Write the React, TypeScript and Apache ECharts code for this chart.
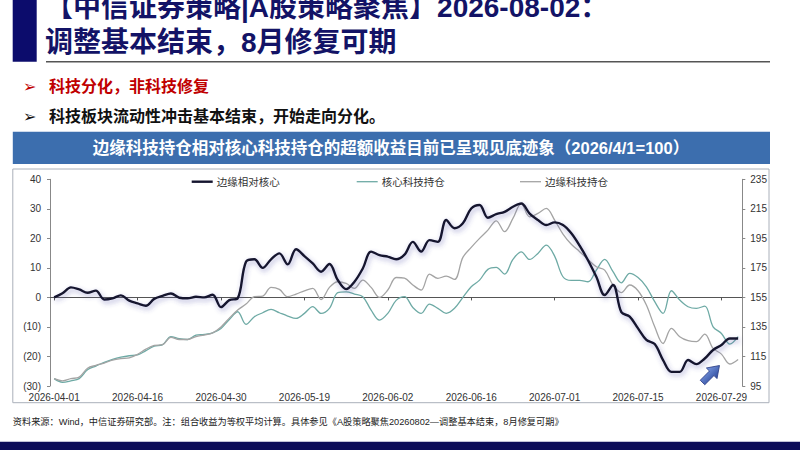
import { useEffect, useRef } from 'react';
import * as echarts from 'echarts';

// trading days, 2026-04-01 .. 2026-07-31
const dates = [
  '2026-04-01', '2026-04-02', '2026-04-03', '2026-04-07', '2026-04-08', '2026-04-09', '2026-04-10',
  '2026-04-13', '2026-04-14', '2026-04-15', '2026-04-16', '2026-04-17', '2026-04-20', '2026-04-21',
  '2026-04-22', '2026-04-23', '2026-04-24', '2026-04-27', '2026-04-28', '2026-04-29', '2026-04-30',
  '2026-05-06', '2026-05-07', '2026-05-08', '2026-05-11', '2026-05-12', '2026-05-13', '2026-05-14',
  '2026-05-15', '2026-05-18', '2026-05-19', '2026-05-20', '2026-05-21', '2026-05-22', '2026-05-25',
  '2026-05-26', '2026-05-27', '2026-05-28', '2026-05-29', '2026-06-01', '2026-06-02', '2026-06-03',
  '2026-06-04', '2026-06-05', '2026-06-08', '2026-06-09', '2026-06-10', '2026-06-11', '2026-06-12',
  '2026-06-15', '2026-06-16', '2026-06-17', '2026-06-18', '2026-06-22', '2026-06-23', '2026-06-24',
  '2026-06-25', '2026-06-26', '2026-06-29', '2026-06-30', '2026-07-01', '2026-07-02', '2026-07-03',
  '2026-07-06', '2026-07-07', '2026-07-08', '2026-07-09', '2026-07-10', '2026-07-13', '2026-07-14',
  '2026-07-15', '2026-07-16', '2026-07-17', '2026-07-20', '2026-07-21', '2026-07-22', '2026-07-23',
  '2026-07-24', '2026-07-27', '2026-07-28', '2026-07-29', '2026-07-30', '2026-07-31',
];

// 边缘相对核心 (left axis)
const edgeVsCore = [
  0, 1.4, 3.4, 2.7, 1.6, 2.3, -0.7, -0.3, 0.7, -1.1, -2.0, -2.8, -0.5, 0.5, 1.35, -0.1, -0.3,
  0.2, 0, 0.9, -3.3, -0.9, -0.3, 12.1, 12.9, 10.0, 12.9, 14.9, 11.2, 16.3, 14.0, 11.5, 8.7, 11.3,
  5.9, 2.8, 5.3, 9.8, 15.5, 14.3, 13.8, 12.9, 14.5, 18.8, 15.5, 19.4, 18.8, 26.2, 23.4, 25.1, 30.1,
  31.3, 27.0, 28.2, 29.0, 30.7, 31.8, 28.4, 26.2, 24.5, 25.4, 24.5, 21.7, 17.5, 12.6, 7.0, 0.8,
  4.2, -5.0, -6.5, -10.5, -14.4, -15.8, -21.2, -25.2, -25.2, -21.2, -22.6, -20.7, -17.8, -16.1,
  -13.9, -13.9,
];

// 核心科技持仓 (right axis)
const coreHold = [
  100, 97.5, 98.5, 100, 106, 108.5, 111, 113, 114.5, 115.5, 116, 119, 122, 123, 128.5, 127, 126.5,
  129.5, 130, 131, 134, 140, 145.3, 136.7, 141.9, 144.6, 146.9, 144.6, 142.4, 140.8, 144.2, 148.7,
  144.2, 147.6, 158.2, 158.8, 157.3, 155.5, 146.4, 139.6, 144.2, 153, 155.5, 148.2, 144.2, 150.5,
  147.6, 144.2, 147.6, 155, 162.2, 166.7, 174, 175.3, 170.8, 180.7, 185.9, 180.7, 184.8, 190.4, 183,
  169, 166.5, 166.5, 165.6, 173.5, 180.7, 172.4, 164.9, 171.3, 168.5, 162.2, 152.1, 144.2, 159.5,
  153.2, 148.7, 147.6, 149.1, 135.1, 130.6, 123.4, 128.4,
];

// 边缘科技持仓 (right axis)
const edgeHold = [
  100, 98.5, 100, 101, 107, 109, 110.5, 112.5, 113.5, 114, 116.5, 120, 122.5, 123, 128, 126.5, 126.5,
  128.5, 129.5, 131, 135, 141, 146.4, 150.5, 155.5, 155.9, 161.8, 160.4, 155.5, 157.3, 159.5, 161.1,
  153.6, 161.8, 165.6, 164.5, 161.1, 166.7, 161.8, 155, 160, 168.5, 168, 163.4, 160, 170.8, 167.9,
  169.4, 167.2, 182.1, 188.9, 195, 200.6, 206.9, 199.5, 208.5, 218.7, 209.6, 211.9, 215.3, 207.4,
  197.9, 191, 186, 180.7, 175.8, 173.5, 163.4, 158.2, 163.4, 159.5, 149.8, 135.1, 123.8, 134, 128.4,
  125.7, 125, 130.2, 120.5, 116.6, 109.9, 113,
];

const seriesNames = ['边缘相对核心', '核心科技持仓', '边缘科技持仓'];
const seriesColors = ['#14142e', '#6eaaa5', '#a4a4a4'];
const seriesWidths = [2.4, 1.3, 1.3];

const titleLine1 = '【中信证券策略|A股策略聚焦】2026-08-02：';
const titleLine2 = '调整基本结束，8月修复可期';
const bullet1 = '科技分化，非科技修复';
const bullet2 = '科技板块流动性冲击基本结束，开始走向分化。';
const bannerText = '边缘科技持仓相对核心科技持仓的超额收益目前已呈现见底迹象（2026/4/1=100）';
const sourceText =
  '资料来源：Wind，中信证券研究部。注：组合收益为等权平均计算。具体参见《A股策略聚焦20260802—调整基本结束，8月修复可期》';

const FONT = "'Liberation Sans', 'Noto Sans CJK SC', sans-serif";
const NAVY = '#131366';

const txt = (x: number, y: number, text: string, size: number, fill: string, weight = 'normal', align = 'left', family = FONT) => ({
  type: 'text',
  x,
  y,
  silent: true,
  style: {
    text,
    fill,
    fontSize: size,
    fontWeight: weight,
    fontFamily: family,
    align,
    textAlign: align,
    verticalAlign: 'middle',
    textVerticalAlign: 'middle',
  },
});

// hand-drawn legend: plain line keys like the original
const legendStarts = [191.7, 356.7, 520];
const legendItems = seriesNames.flatMap((name, i) => [
  {
    type: 'line',
    silent: true,
    shape: { x1: legendStarts[i], y1: 181.7, x2: legendStarts[i] + 21, y2: 181.7 },
    style: { stroke: seriesColors[i], lineWidth: seriesWidths[i] },
  },
  txt(legendStarts[i] + 25, 182, name, 10.5, '#333'),
]);

export default function App() {
  const ref = useRef<HTMLDivElement>(null);

  useEffect(() => {
    if (!ref.current) return;
    const chart = echarts.init(ref.current, null, { renderer: 'svg' });

    const axisText = { fontSize: 10, color: '#333', fontFamily: FONT };

    const option: any = {
      animation: false,
      backgroundColor: '#ffffff',
      textStyle: { fontFamily: FONT },
      grid: { left: 50, right: 57.7, top: 179.3, bottom: 64 },
      xAxis: [
        {
          type: 'category',
          data: dates,
          boundaryGap: true,
          position: 'bottom',
          axisLine: { show: false, onZero: false },
          axisTick: { show: false },
          axisLabel: { interval: 9, margin: 6, ...axisText },
          splitLine: { show: false },
        },
        {
          type: 'category',
          data: dates,
          boundaryGap: true,
          position: 'bottom',
          axisLine: { show: true, onZero: true, onZeroAxisIndex: 0, lineStyle: { color: '#555', width: 1.2 } },
          axisTick: { show: true, interval: 9, alignWithLabel: true, length: 3, lineStyle: { color: '#555' } },
          axisLabel: { show: false },
          splitLine: { show: false },
        },
      ],
      yAxis: [
        {
          type: 'value',
          position: 'left',
          min: -30,
          max: 40,
          interval: 10,
          axisLine: { show: true, onZero: false, lineStyle: { color: '#888' } },
          axisTick: { show: true, length: 3, lineStyle: { color: '#888' } },
          axisLabel: { margin: 9, ...axisText, formatter: (v: number) => (v < 0 ? `(${-v})` : `${v}`) },
          splitLine: { show: false },
        },
        {
          type: 'value',
          position: 'right',
          min: 95,
          max: 235,
          interval: 20,
          axisLine: { show: true, onZero: false, lineStyle: { color: '#888' } },
          axisTick: { show: true, length: 3, lineStyle: { color: '#888' } },
          axisLabel: { margin: 8, ...axisText },
          splitLine: { show: false },
        },
      ],
      series: [
        {
          name: seriesNames[1],
          type: 'line',
          xAxisIndex: 0,
          yAxisIndex: 1,
          data: coreHold,
          smooth: 0.35,
          symbol: 'none',
          lineStyle: { color: seriesColors[1], width: seriesWidths[1] },
          itemStyle: { color: seriesColors[1] },
        },
        {
          name: seriesNames[2],
          type: 'line',
          xAxisIndex: 0,
          yAxisIndex: 1,
          data: edgeHold,
          smooth: 0.35,
          symbol: 'none',
          lineStyle: { color: seriesColors[2], width: seriesWidths[2] },
          itemStyle: { color: seriesColors[2] },
        },
        {
          name: seriesNames[0],
          type: 'line',
          xAxisIndex: 0,
          yAxisIndex: 0,
          data: edgeVsCore,
          smooth: 0.35,
          symbol: 'none',
          lineStyle: {
            color: seriesColors[0],
            width: seriesWidths[0],
            shadowColor: 'rgba(70,70,160,0.45)',
            shadowBlur: 5,
            shadowOffsetX: 1.5,
            shadowOffsetY: 2.5,
          },
          itemStyle: { color: seriesColors[0] },
        },
      ],
      graphic: [
        // header
        { type: 'rect', silent: true, shape: { x: 12.7, y: 0, width: 24, height: 61.7 }, style: { fill: '#0c0c6c' } },
        txt(45, 7.5, titleLine1, 28, NAVY, 'bold'),
        txt(45, 42.5, titleLine2, 28, NAVY, 'bold'),
        { type: 'line', silent: true, shape: { x1: 46, y1: 61.7, x2: 770, y2: 61.7 }, style: { stroke: '#555', lineWidth: 1.5 } },
        // bullets
        txt(23, 86, '➢', 16, '#c00000', 'normal', 'left', "'DejaVu Sans'"),
        txt(49, 86, bullet1, 16, '#c00000', 'bold'),
        txt(23, 116.7, '➢', 16, '#111', 'normal', 'left', "'DejaVu Sans'"),
        txt(49, 116.7, bullet2, 16, '#111', 'bold'),
        // banner
        { type: 'rect', silent: true, shape: { x: 12.8, y: 131.7, width: 757.2, height: 32.3 }, style: { fill: '#3c6eae' } },
        txt(391, 148, bannerText, 16.5, '#ffffff', 'bold', 'center'),
        // chart frame
        {
          type: 'rect',
          silent: true,
          shape: { x: 12.8, y: 169, width: 756.2, height: 233.7 },
          style: { fill: 'none', stroke: '#aab0ba', lineWidth: 1 },
        },
        ...legendItems,
        // arrow
        {
          type: 'polygon',
          silent: true,
          x: 711,
          y: 374,
          rotation: Math.PI / 4,
          z: 10,
          shape: { points: [[-12, -3.2], [1, -3.2], [1, -7.5], [12, 0], [1, 7.5], [1, 3.2], [-12, 3.2]] },
          style: {
            fill: {
              type: 'linear',
              x: 0,
              y: 0,
              x2: 0,
              y2: 1,
              colorStops: [
                { offset: 0, color: '#7a98e0' },
                { offset: 1, color: '#2f4c9e' },
              ],
            },
            stroke: '#2a3c84',
            lineWidth: 0.8,
          },
        },
        // footer
        txt(12.8, 422, sourceText, 9.2, '#222'),
        { type: 'rect', silent: true, shape: { x: 0, y: 441.7, width: 800, height: 8.3 }, style: { fill: '#0d0d58' } },
      ],
    };

    chart.setOption(option);
    return () => chart.dispose();
  }, []);

  return (
    <div
      ref={ref}
      style={{ position: 'absolute', left: 0, top: 0, width: 800, height: 450, background: '#fff' }}
    />
  );
}
